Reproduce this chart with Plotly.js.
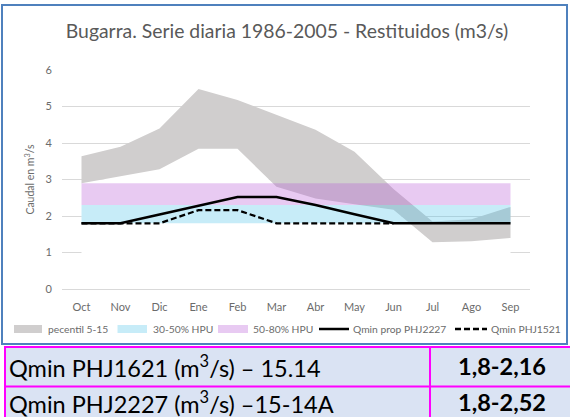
<!DOCTYPE html>
<html>
<head>
<meta charset="utf-8">
<script src="https://cdn.plot.ly/plotly-3.0.1.min.js"></script>
<style>
  html, body { margin: 0; padding: 0; background: #ffffff; }
  #chart { width: 570px; height: 417px; }
</style>
</head>
<body>
<div id="chart"></div>
<script>
// ---- data ----
const months = ['Oct','Nov','Dic','Ene','Feb','Mar','Abr','May','Jun','Jul','Ago','Sep'];
const pct5  = [2.90, 3.08, 3.28, 3.84, 3.84, 2.80, 2.48, 2.32, 2.17, 1.28, 1.31, 1.40];
const pct15 = [3.64, 3.90, 4.40, 5.48, 5.18, 4.77, 4.36, 3.76, 2.74, 1.85, 1.91, 2.25];
const hpu30 = [1.8, 1.8, 1.8, 1.8, 1.8, 1.8, 1.8, 1.8, 1.8, 1.8, 1.8, 1.8];
const hpu50 = [2.3, 2.3, 2.3, 2.3, 2.3, 2.3, 2.3, 2.3, 2.3, 2.3, 2.3, 2.3];
const hpu80 = [2.9, 2.9, 2.9, 2.9, 2.9, 2.9, 2.9, 2.9, 2.9, 2.9, 2.9, 2.9];
const qminProp2227 = [1.8, 1.8, 2.04, 2.28, 2.52, 2.52, 2.30, 2.05, 1.8, 1.8, 1.8, 1.8];
const qmin1521 = [1.8, 1.8, 1.8, 2.16, 2.16, 1.8, 1.8, 1.8, 1.8, null, null, null];
const yTicks = [0, 1, 2, 3, 4, 5, 6];
const legendLabels = ['pecentil 5-15', '30-50% HPU', '50-80% HPU', 'Qmin prop PHJ2227', 'Qmin PHJ1521'];
const titleText = 'Bugarra. Serie diaria 1986-2005 - Restituidos (m3/s)';
const yTitle = 'Caudal en m<sup>3</sup>/s';
const tableRows = [
  ['Qmin PHJ1621 (m<sup>3</sup>/s) – 15.14', '<b>1,8-2,16</b>'],
  ['Qmin PHJ2227 (m<sup>3</sup>/s) –15-14A', '<b>1,8-2,52</b>']
];

// ---- styling ----
const GREY = 'rgb(208,206,206)';
const BLUE = 'rgba(68,192,232,0.3)';
const PINK = 'rgba(178,78,212,0.3)';
const TXT = '#6b6b6b';
const FONT = 'Lato, "Open Sans", sans-serif';

const L = 62, T = 70, W = 468, H = 219;
const px = x => (x - L) / W;
const py = y => (T + H - y) / H;

const traces = [
  {x: months, y: pct5, mode: 'lines', line: {width: 0}, fill: 'tozeroy', fillcolor: '#ffffff', hoverinfo: 'skip', showlegend: false},
  {x: months, y: pct15, mode: 'lines', line: {width: 0}, fill: 'tonexty', fillcolor: GREY, showlegend: false},
  {x: months, y: hpu30, mode: 'lines', line: {width: 0}, showlegend: false},
  {x: months, y: hpu50, mode: 'lines', line: {width: 0}, fill: 'tonexty', fillcolor: BLUE, showlegend: false},
  {x: months, y: hpu80, mode: 'lines', line: {width: 0}, fill: 'tonexty', fillcolor: PINK, showlegend: false},
  {x: months, y: qminProp2227, mode: 'lines', line: {color: '#000000', width: 2.5}, showlegend: false},
  {x: months, y: qmin1521, mode: 'lines', line: {color: '#000000', width: 2.25, dash: '6px,3px'}, connectgaps: false, showlegend: false}
];

// legend (drawn manually to match the reference layout)
const shapes = [];
const annotations = [];
const legY = 329;
const legItems = [
  {kind: 'rect', color: 'rgb(208,206,206)', x0: 14, x1: 42, tx: 45.5},
  {kind: 'rect', color: 'rgb(199,236,248)', x0: 117.5, x1: 147, tx: 151},
  {kind: 'rect', color: 'rgb(232,202,242)', x0: 218, x1: 248, tx: 251},
  {kind: 'line', dash: 'solid', x0: 319, x1: 349, tx: 351},
  {kind: 'line', dash: '6px,3px', x0: 455, x1: 487, tx: 489}
];
legItems.forEach((it, i) => {
  if (it.kind === 'rect') {
    shapes.push({type: 'rect', xref: 'paper', yref: 'paper', x0: px(it.x0), x1: px(it.x1), y0: py(legY + 4), y1: py(legY - 4),
      fillcolor: it.color, line: {width: 0}});
  } else {
    shapes.push({type: 'line', xref: 'paper', yref: 'paper', x0: px(it.x0), x1: px(it.x1), y0: py(legY), y1: py(legY),
      line: {color: '#000000', width: 2.5, dash: it.dash}});
  }
  annotations.push({xref: 'paper', yref: 'paper', x: px(it.tx), y: py(legY), xanchor: 'left', yanchor: 'middle',
    text: legendLabels[i], showarrow: false, font: {family: FONT, size: 10.3, color: TXT}});
});

// chart frame
shapes.push({type: 'rect', xref: 'paper', yref: 'paper', x0: px(2), x1: px(567), y0: py(344), y1: py(5),
  line: {color: '#4f81bd', width: 2}, fillcolor: 'rgba(0,0,0,0)', layer: 'below'});

// table below
shapes.push({type: 'rect', xref: 'paper', yref: 'paper', x0: px(5), x1: px(580), y0: py(432), y1: py(347),
  fillcolor: '#dae3f3', line: {color: '#ff00ff', width: 2}});
shapes.push({type: 'line', xref: 'paper', yref: 'paper', x0: px(5), x1: px(580), y0: py(386.5), y1: py(386.5),
  line: {color: '#ff00ff', width: 2}});
shapes.push({type: 'line', xref: 'paper', yref: 'paper', x0: px(430), x1: px(430), y0: py(347), y1: py(432),
  line: {color: '#ff00ff', width: 2}});
const rowY = [366, 402];
tableRows.forEach((r, i) => {
  annotations.push({xref: 'paper', yref: 'paper', x: px(7), y: py(rowY[i]), xanchor: 'left', yanchor: 'middle',
    text: r[0], showarrow: false, font: {family: FONT, size: 23.5, color: '#000000'}});
  annotations.push({xref: 'paper', yref: 'paper', x: px(502), y: py(rowY[i]), xanchor: 'center', yanchor: 'middle',
    text: r[1], showarrow: false, font: {family: FONT, size: 23.5, color: '#000000'}});
});

const layout = {
  width: 570, height: 417,
  margin: {l: L, r: 570 - L - W, t: T, b: 417 - T - H, pad: 0},
  paper_bgcolor: '#ffffff', plot_bgcolor: '#ffffff',
  showlegend: false,
  title: {text: titleText, x: 287 / 570, xanchor: 'center', y: 1 - 31 / 417, yanchor: 'middle', yref: 'container',
    font: {family: FONT, size: 19.4, color: '#595959'}},
  xaxis: {type: 'category', categoryorder: 'array', categoryarray: months, range: [-0.5, 11.5],
    showgrid: false, zeroline: false, showline: true, linecolor: '#d9d9d9', linewidth: 1,
    ticks: '', ticklabelstandoff: 8, tickfont: {family: FONT, size: 11, color: TXT}, fixedrange: true},
  yaxis: {range: [0, 6], tickvals: yTicks, showgrid: true, gridcolor: '#d9d9d9', gridwidth: 1, zeroline: false,
    showline: false, ticks: '', ticklabelstandoff: 9, tickfont: {family: FONT, size: 11, color: TXT},
    title: {text: yTitle, standoff: 8, font: {family: FONT, size: 10.5, color: TXT}}},
  yaxis2: {range: [0, 6], tickvals: yTicks, overlaying: 'y', side: 'right', showgrid: false, zeroline: false,
    showline: false, ticks: '', ticklabelstandoff: 9, tickfont: {family: FONT, size: 11, color: TXT}},
  shapes: shapes,
  annotations: annotations
};

Plotly.newPlot('chart', traces, layout, {displayModeBar: false, staticPlot: true});
</script>
</body>
</html>
